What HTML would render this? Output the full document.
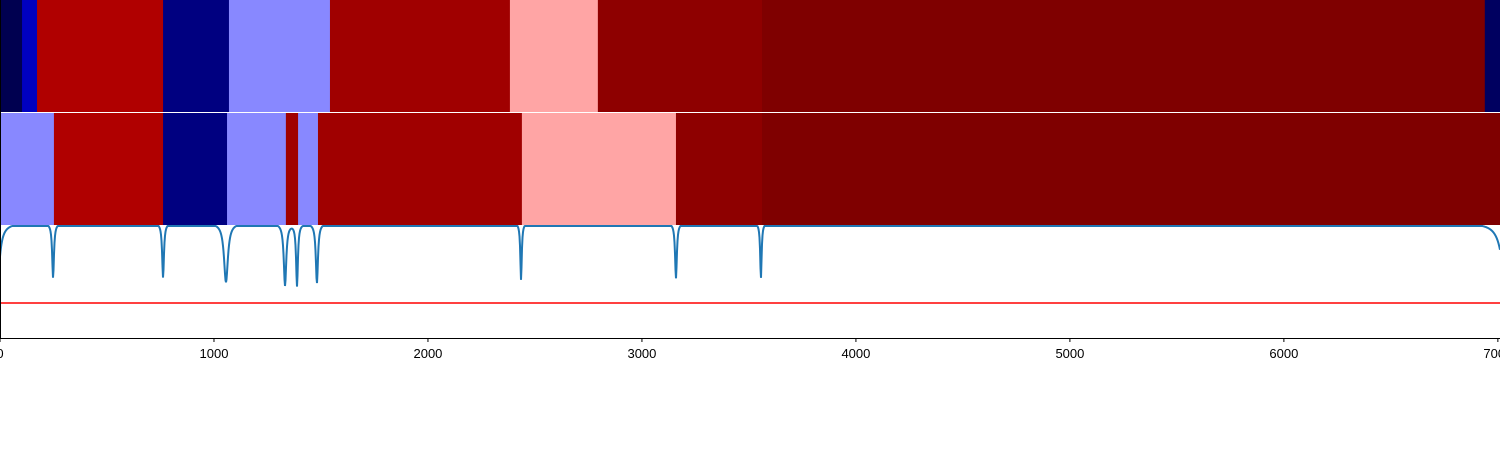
<!DOCTYPE html>
<html><head><meta charset="utf-8"><style>
body{margin:0;background:#fff;width:1500px;height:450px;overflow:hidden}
svg{display:block}
text{font-family:"Liberation Sans","DejaVu Sans",sans-serif;font-size:13px}
</style></head><body>
<svg id="chart" width="1500" height="450"></svg>
<script>
const row1Bounds=[0,103,173,762,1070,1542,2383,2794,3561,6939,7010];
const row1Colors=["#000050","#0000c0","#b00000","#000080","#8888ff","#a00000","#ffa5a5","#8e0000","#7f0000","#000060"];
const row2Bounds=[0,252,762,1061,1336,1393,1486,2439,3159,3561,7010];
const row2Colors=["#8888ff","#b00000","#000080","#8888ff","#a00000","#8888ff","#a00000","#ffa5a5","#8e0000","#7f0000"];
const dipCenters=[-20,248,762,1056,1332,1388,1481,2435,3159,3556,7040];
const dipDepths=[1.65,0.71,0.71,0.77,0.81,0.81,0.78,0.74,0.72,0.72,0.85];
const dipWidths=[12,5,5,11,7,5,6,4,5,4,25];
const thresholdValue=0;
const xTicks=[0,1000,2000,3000,4000,5000,6000,7000];
const xMax=7010;
const svg=document.getElementById('chart');
const NS='http://www.w3.org/2000/svg';
const X=v=>v*1500/xMax;
const Y=v=>303-v*77;
function mk(t,a,p){const e=document.createElementNS(NS,t);for(const k in a)e.setAttribute(k,a[k]);(p||svg).appendChild(e);return e;}
function band(bounds,colors,y0,h,name){
  for(let i=0;i<colors.length;i++){
    const r=mk('rect',{x:X(bounds[i]),y:y0,width:X(bounds[i+1])-X(bounds[i])+0.5,height:h,fill:colors[i]});
    
    
  }
}
band(row1Bounds,row1Colors,0,112,'top-band');
band(row2Bounds,row2Colors,113,112,'bottom-band');
let d='';
for(let px=0;px<=1500;px+=0.5){
  const u=px*xMax/1500;let v=1.04;
  for(let i=0;i<dipCenters.length;i++){const z=(u-dipCenters[i])/dipWidths[i];v-=dipDepths[i]/(1+z*z);}
  d+=(px?'L':'M')+px+','+Math.max(Y(v),226).toFixed(2);
}
const ln=mk('path',{d:d,fill:'none',stroke:'#1f77b4','stroke-width':2});


const th=mk('line',{x1:0,x2:1500,y1:Y(thresholdValue),y2:Y(thresholdValue),stroke:'#ff0000','stroke-width':1.5});


const sp=mk('line',{x1:0.5,x2:0.5,y1:0,y2:338,stroke:'#000','stroke-width':1});


const ax=mk('line',{x1:0,x2:1500,y1:338.5,y2:338.5,stroke:'#000','stroke-width':1});


xTicks.forEach(t=>{
  const tk=mk('line',{x1:X(t),x2:X(t),y1:338,y2:342,stroke:'#000','stroke-width':1});
  
  
  const tx=mk('text',{x:X(t),y:358,'text-anchor':'middle',fill:'#000'});
  tx.textContent=t;
  
  
});
</script>
</body></html>
